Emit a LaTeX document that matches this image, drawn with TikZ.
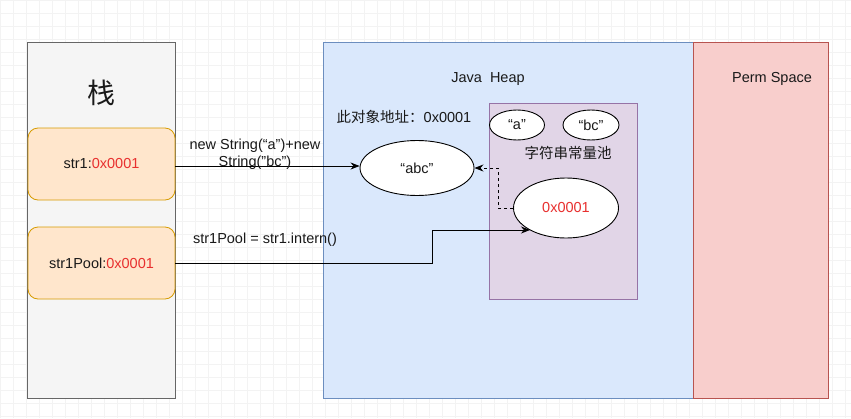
\documentclass[tikz,border=0pt]{standalone}
\usepackage{fontspec}
\setmainfont{Liberation Sans}[Ligatures=NoCommon]
\newfontfamily\cjk{Noto Sans CJK SC}
\usetikzlibrary{arrows.meta,shapes.geometric}
\definecolor{stackfill}{HTML}{F5F5F5}
\definecolor{stackline}{HTML}{666666}
\definecolor{varfill}{HTML}{FFE6CC}
\definecolor{varline}{HTML}{D79B00}
\definecolor{heapfill}{HTML}{DAE8FC}
\definecolor{heapline}{HTML}{6C8EBF}
\definecolor{permfill}{HTML}{F8CECC}
\definecolor{permline}{HTML}{B85450}
\definecolor{poolfill}{HTML}{E1D5E7}
\definecolor{poolline}{HTML}{9673A6}
\definecolor{addr}{HTML}{E8302F}
\definecolor{gridc}{HTML}{F3F3F3}
\newcommand{\sq}{\symbol{34}}
\begin{document}
\begin{tikzpicture}[x=1pt,y=-1pt,
  every node/.style={font=\fontsize{14.5}{17}\selectfont, text=black!90},
  region/.style={draw, line width=0.8pt, inner sep=0pt, anchor=north west},
  varbox/.style={draw=varline, fill=varfill, line width=0.8pt, rounded corners=10pt, minimum width=147pt, minimum height=72pt, inner sep=0pt},
  obj/.style={ellipse, draw=black, fill=white, line width=0.9pt, inner sep=0pt},
  conn/.style={draw=black, line width=0.9pt, -{Stealth[length=9pt,width=7pt]}},
  lbl/.style={align=center, inner sep=1pt}
]
\useasboundingbox (0,0) rectangle (851,418);
\fill[white] (0,0) rectangle (851,418);
\draw[gridc, line width=0.5pt, step=13pt] (0,0) grid (851,418);
% regions
\node[region, draw=stackline, fill=stackfill, minimum width=148pt, minimum height=356pt] (stack) at (27,42) {};
\node[region, draw=heapline, fill=heapfill, minimum width=370pt, minimum height=356pt] (heap) at (323,42) {};
\node[region, draw=permline, fill=permfill, minimum width=135pt, minimum height=356pt] (perm) at (693,42) {};
\node[region, draw=poolline, fill=poolfill, minimum width=148pt, minimum height=196pt] (pool) at (489,103) {};
% titles
\node[font=\cjk\fontsize{28}{32}\selectfont] (stacktitle) at (101,93) {栈};
\node (heaptitle) at (488,79) {Java\ \ Heap};
\node (permtitle) at (772,79) {Perm Space};
\node[font=\cjk\fontsize{14.5}{17}\selectfont] (pooltitle) at (568,153) {字符串常量池};
\node (addrnote) at (404,117) {{\cjk 此对象地址：}0x0001};
% variables
\node[varbox] (str1) at (101.5,164) {str1:\textcolor{addr}{0x0001}};
\node[varbox] (str1pool) at (101.5,263) {str1Pool:\textcolor{addr}{0x0001}};
% objects
\node[obj, minimum width=55pt, minimum height=30pt] (a) at (517,125) {“a”};
\node[obj, minimum width=56pt, minimum height=30pt] (bc) at (591,125) {“bc”};
\node[obj, minimum width=114pt, minimum height=55pt] (abc) at (417,168) {“abc\sq};
\node[obj, minimum width=105pt, minimum height=60pt] (ref) at (566,208) {\textcolor{addr}{0x0001}};
% connectors
\coordinate (bend1) at (432,263);
\coordinate (bend2) at (432,230);
\draw[conn] (str1.east |- 0,166) -- (abc.west |- 0,166);
\node[lbl] (lbl1) at (255,154) {new String(“a”)+new\\String(\sq bc\sq)};
\draw[conn] (str1pool.east) -- (bend1) -- (bend2) -- (bend2 -| 530,0);
\node[lbl] (lbl2) at (265,240) {str1Pool = str1.intern()};
\coordinate (d1) at (498,208);
\coordinate (d2) at (498,168);
\draw[conn, dashed, dash pattern=on 3pt off 3pt] (ref.west) -- (d1) -- (d2) -- (abc.east);
\end{tikzpicture}
\end{document}
